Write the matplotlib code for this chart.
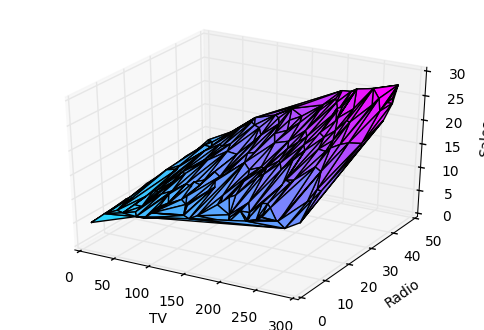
import matplotlib
matplotlib.use('Agg')
import matplotlib.pyplot as plt
from matplotlib import cm

tv = [230.1,44.5,17.2,151.5,180.8,8.7,57.5,120.2,8.6,199.8,66.1,214.7,23.8,97.5,204.1,195.4,67.8,281.4,69.2,147.3,
      218.4,237.4,13.2,228.3,62.3,262.9,142.9,240.1,248.8,70.6,292.9,112.9,97.2,265.6,95.7,290.7,266.9,74.7,43.1,228,
      202.5,177,293.6,206.9,25.1,175.3,89.7,239.9,227.2,66.9,199.8,100.4,216.4,182.6,262.7,198.9,7.3,136.2,210.8,210.7,
      53.5,261.3,239.3,102.7,131.1,69,31.5,139.3,237.4,216.8,199.1,109.8,26.8,129.4,213.4,16.9,27.5,120.5,5.4,116,
      76.4,239.8,75.3,68.4,213.5,193.2,76.3,110.7,88.3,109.8,134.3,28.6,217.7,250.9,107.4,163.3,197.6,184.9,289.7,135.2,
      222.4,296.4,280.2,187.9,238.2,137.9,25,90.4,13.1,255.4,225.8,241.7,175.7,209.6,78.2,75.1,139.2,76.4,125.7,19.4,
      141.3,18.8,224,123.1,229.5,87.2,7.8,80.2,220.3,59.6,0.7,265.2,8.4,219.8,36.9,48.3,25.6,273.7,43,184.9,
      73.4,193.7,220.5,104.6,96.2,140.3,240.1,243.2,38,44.7,280.7,121,197.6,171.3,187.8,4.1,93.9,149.8,11.7,131.7,
      172.5,85.7,188.4,163.5,117.2,234.5,17.9,206.8,215.4,284.3,50,164.5,19.6,168.4,222.4,276.9,248.4,170.2,276.7,165.6,
      156.6,218.5,56.2,287.6,253.8,205,139.5,191.1,286,18.7,39.5,75.5,17.2,166.8,149.7,38.2,94.2,177,283.6,232.1]
radio = [37.8,39.3,45.9,41.3,10.8,48.9,32.8,19.6,2.1,2.6,5.8,24,35.1,7.6,32.9,47.7,36.6,39.6,20.5,23.9,
         27.7,5.1,15.9,16.9,12.6,3.5,29.3,16.7,27.1,16,28.3,17.4,1.5,20,1.4,4.1,43.8,49.4,26.7,37.7,
         22.3,33.4,27.7,8.4,25.7,22.5,9.9,41.5,15.8,11.7,3.1,9.6,41.7,46.2,28.8,49.4,28.1,19.2,49.6,29.5,
         2,42.7,15.5,29.6,42.8,9.3,24.6,14.5,27.5,43.9,30.6,14.3,33,5.7,24.6,43.7,1.6,28.5,29.9,7.7,
         26.7,4.1,20.3,44.5,43,18.4,27.5,40.6,25.5,47.8,4.9,1.5,33.5,36.5,14,31.6,3.5,21,42.3,41.7,
         4.3,36.3,10.1,17.2,34.3,46.4,11,0.3,0.4,26.9,8.2,38,15.4,20.6,46.8,35,14.3,0.8,36.9,16,
         26.8,21.7,2.4,34.6,32.3,11.8,38.9,0,49,12,39.6,2.9,27.2,33.5,38.6,47,39,28.9,25.9,43.9,
         17,35.4,33.2,5.7,14.8,1.9,7.3,49,40.3,25.8,13.9,8.4,23.3,39.7,21.1,11.6,43.5,1.3,36.9,18.4,
         18.1,35.8,18.1,36.8,14.7,3.4,37.6,5.2,23.6,10.6,11.6,20.9,20.1,7.1,3.4,48.9,30.2,7.8,2.3,10,
         2.6,5.4,5.7,43,21.3,45.1,2.1,28.7,13.9,12.1,41.1,10.8,4.1,42,35.6,3.7,4.9,9.3,42,8.6]
sales = [22.1,10.4,9.3,18.5,12.9,7.2,11.8,13.2,4.8,10.6,8.6,17.4,9.2,9.7,19,22.4,12.5,24.4,11.3,14.6,
         18,12.5,5.6,15.5,9.7,12,15,15.9,18.9,10.5,21.4,11.9,9.6,17.4,9.5,12.8,25.4,14.7,10.1,21.5,
         16.6,17.1,20.7,12.9,8.5,14.9,10.6,23.2,14.8,9.7,11.4,10.7,22.6,21.2,20.2,23.7,5.5,13.2,23.8,18.4,
         8.1,24.2,15.7,14,18,9.3,9.5,13.4,18.9,22.3,18.3,12.4,8.8,11,17,8.7,6.9,14.2,5.3,11,
         11.8,12.3,11.3,13.6,21.7,15.2,12,16,12.9,16.7,11.2,7.3,19.4,22.2,11.5,16.9,11.7,15.5,25.4,17.2,
         11.7,23.8,14.8,14.7,20.7,19.2,7.2,8.7,5.3,19.8,13.4,21.8,14.1,15.9,14.6,12.6,12.2,9.4,15.9,6.6,
         15.5,7,11.6,15.2,19.7,10.6,6.6,8.8,24.7,9.7,1.6,12.7,5.7,19.6,10.8,11.6,9.5,20.8,9.6,20.7,
         10.9,19.2,20.1,10.4,11.4,10.3,13.2,25.4,10.9,10.1,16.1,11.6,16.6,19,15.6,3.2,15.3,10.1,7.3,12.9,
         14.4,13.3,14.9,18,11.9,11.9,8,12.2,17.1,15,8.4,14.5,7.6,11.7,11.5,27,20.2,11.7,11.8,12.6,
         10.5,12.2,8.7,26.2,17.6,22.6,10.3,17.3,15.9,6.7,10.8,9.9,5.9,19.6,17.3,7.6,9.7,12.8,25.5,13.4]

x_ticks = [0, 50, 100, 150, 200, 250, 300]
y_ticks = [0, 10, 20, 30, 40, 50]
z_ticks = [0, 5, 10, 15, 20, 25, 30]

plt.style.use('classic')
plt.rcParams['font.size'] = 10

fig = plt.figure(figsize=(4.84, 3.3), dpi=100)
ax = fig.add_axes([0.055, 0.061, 0.895, 0.887], projection='3d')
# old mplot3d stretched a unit cube to the axes, so switch off the square fit
ax.apply_aspect = lambda position=None: None
ax.set_box_aspect((1, 1, 1))
ax.plot_trisurf(tv, radio, sales, cmap=cm.cool, linewidth=1, edgecolor='black')

ax.set_xlim(0, 300, view_margin=0.0245)
ax.set_ylim(0, 50, view_margin=0.0245)
ax.set_zlim(0, 30, view_margin=0.0245)
ax.set_xticks(x_ticks)
ax.set_yticks(y_ticks)
ax.set_zticks(z_ticks)
ax.set_xlabel('TV')
ax.set_ylabel('Radio')
ax.set_zlabel('Sales')

plt.savefig('out.png', dpi=100)
plt.close()
